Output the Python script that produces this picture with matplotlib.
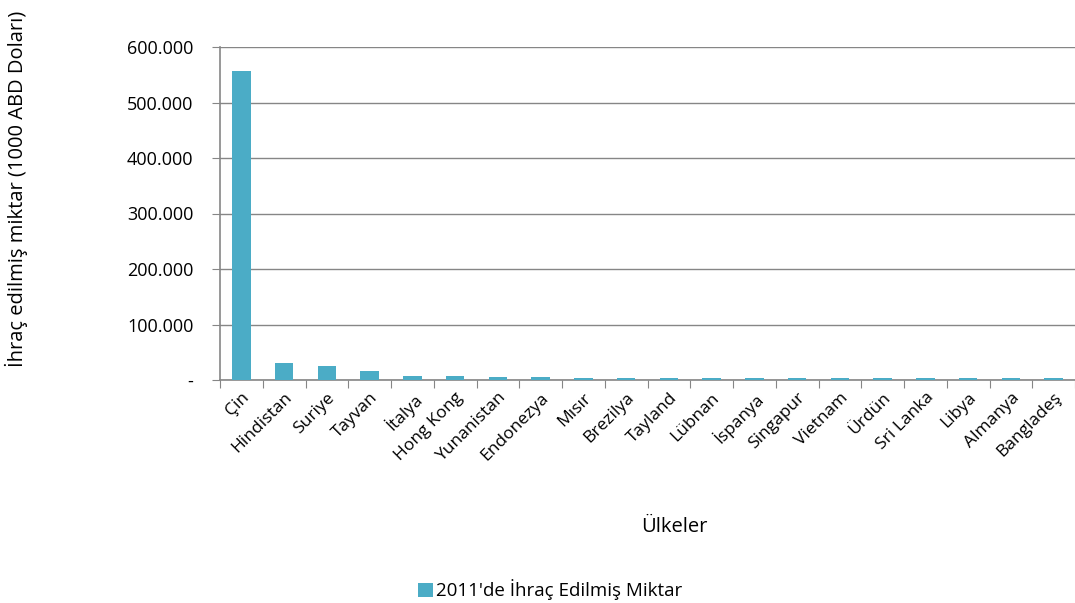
import matplotlib
matplotlib.use("Agg")
import matplotlib.pyplot as plt
from matplotlib.ticker import FuncFormatter

countries = ["Çin", "Hindistan", "Suriye", "Tayvan", "İtalya", "Hong Kong", "Yunanistan",
             "Endonezya", "Mısır", "Brezilya", "Tayland", "Lübnan", "İspanya", "Singapur",
             "Vietnam", "Ürdün", "Sri Lanka", "Libya", "Almanya", "Bangladeş"]
values = [556000, 30500, 24500, 16000, 7800, 7600, 4900,
          4600, 4500, 4400, 4300, 4200, 4100, 4000,
          3900, 3850, 3800, 3750, 3700, 3650]
series_name = "2011'de İhraç Edilmiş Miktar"
y_ticks = [0, 100000, 200000, 300000, 400000, 500000, 600000]

plt.rcParams['font.family'] = ['Open Sans', 'DejaVu Sans']

fig = plt.figure(figsize=(10.75, 6.03), dpi=100)
ax = fig.add_axes([220/1075, 1-380/603, 1-220/1075, (380-47)/603])

x = range(len(countries))
ax.bar(x, values, width=0.43, color="#4BACC6", label=series_name, zorder=3)

ax.set_xlim(-0.5, len(countries) - 0.5)
ax.set_ylim(0, 600000)
ax.set_yticks(y_ticks)

def fmt(v, pos):
    if v == 0:
        return "-"
    return f"{int(v):,}".replace(",", ".")
ax.yaxis.set_major_formatter(FuncFormatter(fmt))

ax.grid(axis='y', color="#868686", linewidth=1.0, zorder=0)
ax.set_axisbelow(True)
for s in ["top", "right"]:
    ax.spines[s].set_visible(False)
for s in ["left", "bottom"]:
    ax.spines[s].set_color("#868686")
    ax.spines[s].set_linewidth(1.2)

ax.set_xticks([i - 0.5 for i in range(len(countries) + 1)], minor=False)
ax.set_xticklabels([])
ax.set_xticks(list(x), minor=True)
ax.set_xticklabels(countries, minor=True, rotation=45, ha='right', rotation_mode='anchor', fontsize=12.5)
ax.tick_params(axis='x', which='minor', length=0, pad=7)
ax.tick_params(axis='x', which='major', length=6, color="#868686", direction='out')
ax.tick_params(axis='y', length=6, color="#868686", labelsize=13, pad=13)

ax.set_xlabel("Ülkeler", fontsize=14.5)
ax.xaxis.set_label_coords((674-220)/(1075-220), -(517-380)/333)
ax.set_ylabel("İhraç edilmiş miktar (1000 ABD Doları)", fontsize=14.5)
ax.yaxis.set_label_coords(-(220-28)/855, 0.575)

leg = fig.legend(loc='center', bbox_to_anchor=(550/1075, 1-590/603), frameon=False,
                 fontsize=13.5, handlelength=0.8, handleheight=0.8, handletextpad=0.2)

fig.savefig("out.png", dpi=100)
